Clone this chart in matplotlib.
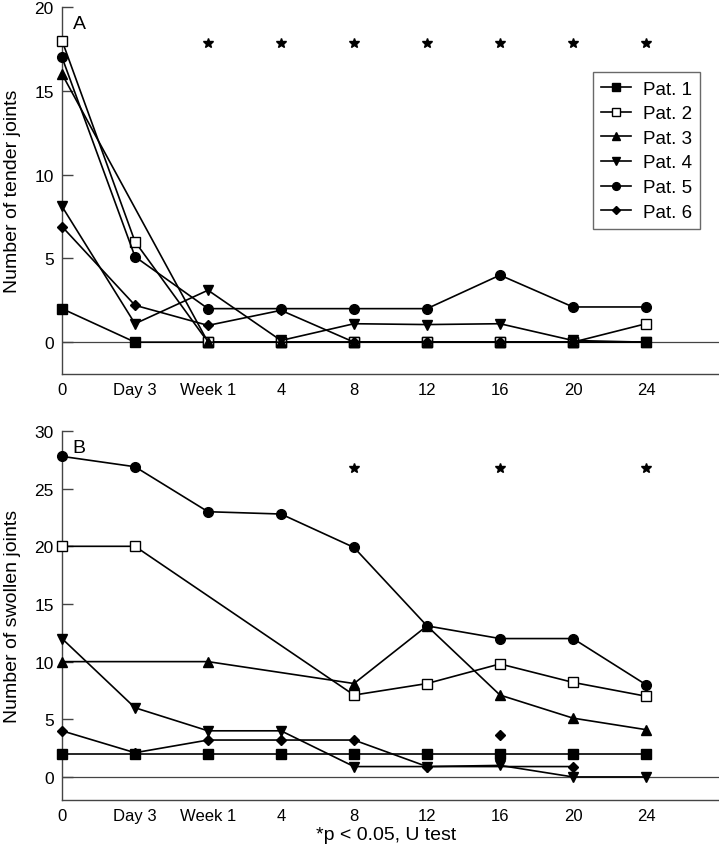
import numpy as np
import matplotlib
matplotlib.use("Agg")
import matplotlib.pyplot as plt

plt.rcParams["font.family"] = ["Liberation Sans", "DejaVu Sans"]

nan = np.nan
times = ["0", "Day 3", "Week 1", "4", "8", "12", "16", "20", "24"]
patients = ["Pat. 1", "Pat. 2", "Pat. 3", "Pat. 4", "Pat. 5", "Pat. 6"]

# panel A: tender joints
tender_p1 = [2, 0, 0, 0, 0, 0, 0, 0, 0]
tender_p2 = [18, 6, 0, 0, 0, 0, 0, 0, 1.1]
tender_p3 = [16, nan, 0, 0, 0, 0, 0, 0, 0]
tender_p4 = [8.1, 1.1, 3.1, 0.1, 1.1, 1.05, 1.1, 0.1, 0]
tender_p5 = [17, 5.1, 2, 2, 2, 2, 4, 2.1, 2.1]
tender_p6 = [6.9, 2.2, 1, 1.9, 0, 0, 0, 0, 0]
tender_stars = [2, 3, 4, 5, 6, 7, 8]

# panel B: swollen joints
swollen_p1 = [2, 2, 2, 2, 2, 2, 2, 2, 2]
swollen_p2 = [20, 20, nan, nan, 7.1, 8.1, 9.8, 8.2, 7.0]
swollen_p3 = [10, nan, 10, nan, 8.1, 13.1, 7.1, 5.1, 4.1]
swollen_p4 = [12, 6, 4, 4, 0.9, 0.9, 1.0, 0, 0]
swollen_p5 = [27.8, 26.9, 23.0, 22.8, 19.9, 13.1, 12.0, 12.0, 8.0]
swollen_p6 = [4, 2.1, 3.2, 3.2, 3.2, 0.9, nan, 0.9, nan]
swollen_p6_stray = (6, 3.6)  # unconnected diamond at week 16
swollen_stars = [4, 6, 8]

markers = ["s", "s", "^", "v", "o", "D"]
faces = ["black", "white", "black", "black", "black", "black"]
sizes = [6.5, 6.5, 7, 7, 7, 5.5]

fig = plt.figure(figsize=(7.19, 8.53), dpi=100)
ax_a = fig.add_axes([62 / 719, 1 - 375 / 853, 657 / 719, 367 / 853])
ax_b = fig.add_axes([62 / 719, 1 - 801 / 853, 657 / 719, 369 / 853])


def draw_panel(ax, series, ylim, yticks, ylabel, letter, star_x, star_y):
    x = np.arange(len(times))
    handles = []
    for i, vals in enumerate(series):
        y = np.array(vals, dtype=float)
        ok = np.isfinite(y)
        h, = ax.plot(x[ok], y[ok], color="black", lw=1.2, marker=markers[i],
                     ms=sizes[i], mfc=faces[i], mec="black", mew=1.0,
                     clip_on=False, zorder=3)
        handles.append(h)
    ax.axhline(0, color="#444444", lw=0.9, zorder=1)
    ax.plot(star_x, [star_y] * len(star_x), ls="none", marker="*",
            color="black", ms=7)
    ax.set_xlim(0, 9)
    ax.set_ylim(*ylim)
    ax.set_yticks(yticks)
    ax.set_xticks(x)
    ax.set_xticklabels(times)
    ax.tick_params(axis="y", direction="in", length=8, width=1,
                   labelsize=12.5, pad=6, color="#444444")
    ax.tick_params(axis="x", length=0, labelsize=12, pad=6)
    ax.spines["top"].set_visible(False)
    ax.spines["right"].set_visible(False)
    for s in ("left", "bottom"):
        ax.spines[s].set_linewidth(1.0)
        ax.spines[s].set_color("#444444")
    ax.set_ylabel(ylabel, fontsize=14)
    ax.yaxis.set_label_coords(-0.062, 0.5)
    ax.text(0.016, 0.978, letter, transform=ax.transAxes, fontsize=14,
            va="top", ha="left")
    return handles


handles = draw_panel(ax_a, [tender_p1, tender_p2, tender_p3, tender_p4,
                            tender_p5, tender_p6],
                     (-1.9, 20), [0, 5, 10, 15, 20],
                     "Number of tender joints", "A", tender_stars, 17.85)
draw_panel(ax_b, [swollen_p1, swollen_p2, swollen_p3, swollen_p4,
                  swollen_p5, swollen_p6],
           (-2.0, 30), [0, 5, 10, 15, 20, 25, 30],
           "Number of swollen joints", "B", swollen_stars, 26.8)
ax_b.plot([swollen_p6_stray[0]], [swollen_p6_stray[1]], ls="none",
          marker="D", ms=5.5, color="black")

leg = ax_a.legend(handles, patients, loc="upper left",
                  bbox_to_anchor=((593 - 62) / 657, (375 - 73) / 367),
                  fontsize=13.5, frameon=True, fancybox=False,
                  edgecolor="#444444", markerscale=0.8,
                  handlelength=1.6, handletextpad=0.6, labelspacing=0.4,
                  borderpad=0.45, borderaxespad=0)
leg.get_frame().set_linewidth(1.0)

fig.text(386 / 719, 1 - 836 / 853, "*p < 0.05, U test", ha="center",
         va="center", fontsize=14)

fig.savefig("out.png", dpi=100)
